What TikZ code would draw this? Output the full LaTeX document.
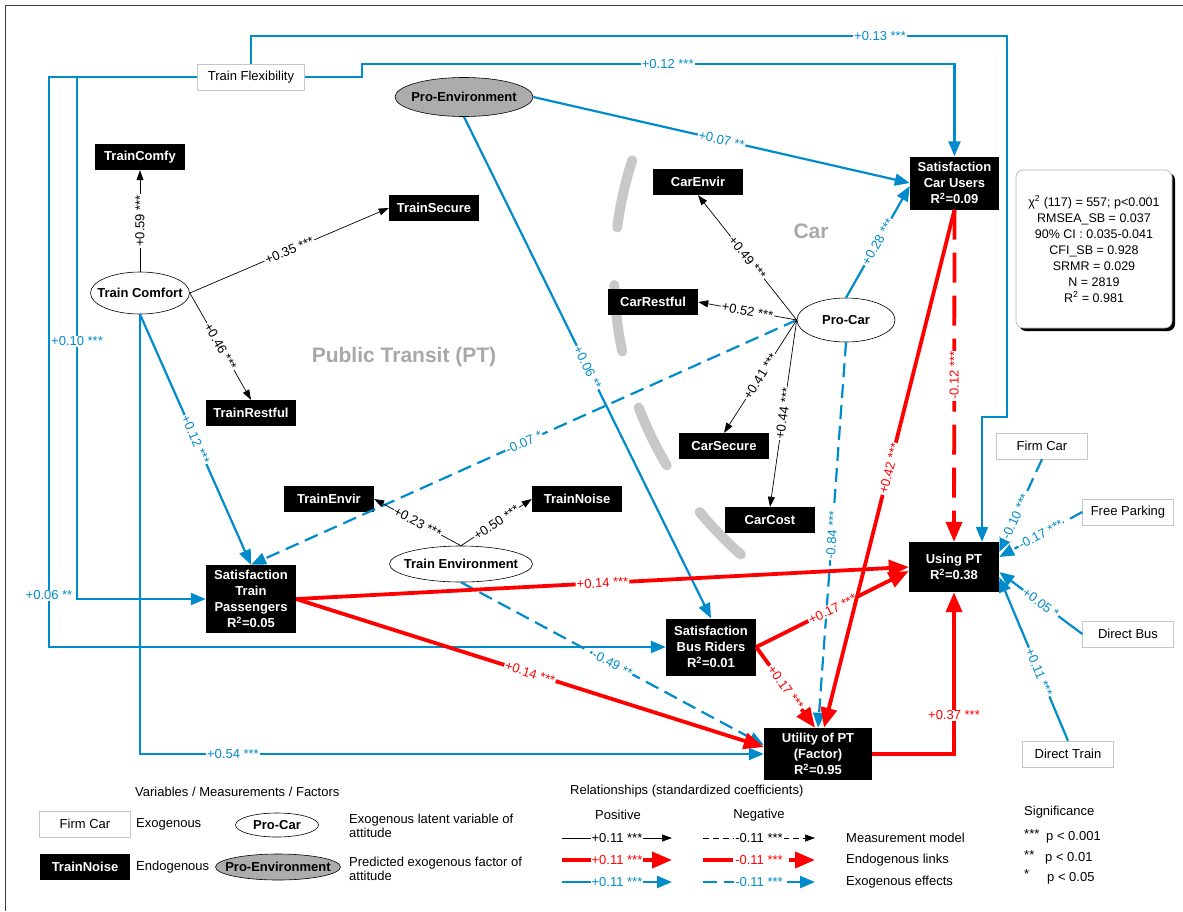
\documentclass[tikz,border=0pt]{standalone}
\usepackage{fontspec}
\setmainfont{Liberation Sans}
\setsansfont{Liberation Sans}
\usetikzlibrary{arrows.meta,shapes.geometric,shadows,positioning}

\definecolor{ptblue}{RGB}{0,140,204}
\definecolor{ptred}{RGB}{255,0,0}
\definecolor{zonegray}{RGB}{200,200,200}
\definecolor{zonetextgray}{RGB}{168,168,168}
\definecolor{factgray}{RGB}{172,172,172}

\newcommand{\rsq}[1]{R\textsuperscript{2}=#1}

\tikzset{
  endo/.style={rectangle,fill=black,text=white,align=center,inner sep=0pt,
    font=\fontsize{13}{16}\selectfont\bfseries,minimum width=90,minimum height=26},
  exo/.style={rectangle,draw=black!22,fill=white,inner sep=0pt,
    font=\fontsize{13}{16}\selectfont,minimum width=91,minimum height=26},
  lat/.style={ellipse,draw=black,line width=0.6pt,fill=white,inner sep=0pt},
  fact/.style={lat,fill=factgray},
  lattext/.style={font=\fontsize{13}{16}\selectfont\bfseries},
  txt/.style={inner sep=0pt,font=\fontsize{13}{15}\selectfont,align=left},
  zonetext/.style={text=zonetextgray,font=\fontsize{21}{24}\selectfont\bfseries},
  lbl/.style={fill=white,inner sep=1pt,font=\fontsize{13}{13}\selectfont},
  slbl/.style={lbl,sloped},
  meas/.style={color=black,line width=0.7pt,-{Triangle[length=10pt,width=7pt]}},
  endl/.style={color=ptred,line width=3.8pt,-{Triangle[length=20pt,width=16pt]}},
  exol/.style={color=ptblue,line width=2.2pt,-{Triangle[length=15pt,width=12pt]}},
  negb/.style={dash pattern=on 14pt off 7pt},
  negr/.style={dash pattern=on 30pt off 13pt},
  negk/.style={dash pattern=on 6pt off 4pt},
}

\begin{document}
\begin{tikzpicture}[x=1pt,y=-1pt]
\useasboundingbox (0,0) rectangle (1183,911);
\draw[black!75,line width=1pt] (5,911) -- (5,5) -- (1183,5);

% zones
\foreach \a/\b in {162.1/172.7,181.6/191.9,200.9/210.8,219.6/228.7}
  \draw[zonegray,line width=10pt,line cap=round]
    plot[domain=\a:\b,samples=20] ({986.6+372.4*cos(\x)},{274.7-372.4*sin(\x)});
\node[zonetext] (pttext) at (404,357) {Public Transit (PT)};
\node[zonetext] (cartext) at (811,231) {Car};

% variables
\node[exo,minimum width=107] (flex) at (251,77) {Train Flexibility};
\node[fact,minimum width=138,minimum height=39,label={[lattext]center:Pro-Environment}] (proenv) at (464,97) {};
\node[endo] (tcomfy) at (140,157) {TrainComfy};
\node[endo] (tsecure) at (434,208) {TrainSecure};
\node[lat,minimum width=99,minimum height=42,label={[lattext]center:Train Comfort}] (tcomfort) at (140,293) {};
\node[endo] (trestful) at (251,413) {TrainRestful};
\node[endo] (tenvir) at (329,499) {TrainEnvir};
\node[endo] (tnoise) at (577,499) {TrainNoise};
\node[lat,minimum width=143,minimum height=36,label={[lattext]center:Train Environment}] (tenv) at (461,564) {};
\node[endo,minimum height=68] (sattrain) at (251,599) {Satisfaction\\Train\\Passengers\\\rsq{0.05}};
\node[endo,minimum height=57] (satbus) at (711,647) {Satisfaction\\Bus Riders\\\rsq{0.01}};
\node[endo,minimum width=108,minimum height=52] (utility) at (818,754) {Utility of PT\\(Factor)\\\rsq{0.95}};
\node[endo,minimum height=50] (usingpt) at (954,567) {Using PT\\\rsq{0.38}};
\node[endo,minimum width=89,minimum height=53] (satcar) at (954.5,183) {Satisfaction\\Car Users\\\rsq{0.09}};
\node[lat,minimum width=98,minimum height=44,label={[lattext]center:Pro-Car}] (procar) at (846,320) {};
\node[endo] (carenvir) at (698,182) {CarEnvir};
\node[endo] (carrestful) at (653,302) {CarRestful};
\node[endo] (carsecure) at (724,446) {CarSecure};
\node[endo] (carcost) at (770,520) {CarCost};
\node[exo] (firmcar) at (1042,446) {Firm Car};
\node[exo] (freepark) at (1128,512) {Free Parking};
\node[exo] (directbus) at (1128,634) {Direct Bus};
\node[exo] (directtrain) at (1068,754) {Direct Train};

\node[draw=black!30,line width=0.6pt,fill=white,rounded corners=7pt,align=center,
  drop shadow={shadow xshift=3pt,shadow yshift=-3pt,fill=black,opacity=1},
  minimum width=156,minimum height=158,inner sep=0pt,font=\fontsize{12.5}{16}\selectfont]
  (stats) at (1094,249) {χ\textsuperscript{2} (117) = 557; p<0.001\\RMSEA\_SB = 0.037\\
  90\% CI : 0.035-0.041\\CFI\_SB = 0.928\\SRMR = 0.029\\N = 2819\\R\textsuperscript{2} = 0.981};

% exogenous effects
\draw[exol] (flex.north) -- (251,36) -- node[lbl,pos=0.832]{+0.13 ***} (1007,36)
  -- (1007,417) -- (982,417) -- ([xshift=28pt]usingpt.north);
\draw[exol] (flex.east) -- (362,77) -- (362,64) -- node[lbl,pos=0.516]{+0.12 ***} (954.5,64) -- (satcar.north);
\draw[exol] (flex.west) -- (77,77) -- node[lbl,pos=0.506]{+0.10 ***} (77,599) -- (sattrain.west);
\draw[exol] (flex.west) -- (49,77) -- node[lbl,pos=0.909]{+0.06 **} (49,647) -- (satbus.west);
\draw[exol] (tcomfort.south) -- (140,754) -- node[lbl,pos=0.149]{+0.54 ***} (utility.west);
\draw[exol] (tcomfort.south) -- node[slbl]{+0.12 ***} (sattrain.north);
\draw[exol] (proenv.east) -- node[slbl]{+0.07 **} (satcar.west);
\draw[exol] (proenv.south) -- node[slbl]{+0.06 **} (satbus.north);
\draw[exol] (procar.north) -- node[slbl]{+0.28 ***} ([yshift=-3pt]satcar.west);
\draw[exol,negb] (procar.west) -- node[slbl]{-0.07 *} (sattrain.north);
\draw[exol,negb] (procar.south) -- node[slbl]{-0.84 ***} (utility.north);
\draw[exol,negb] (tenv.south) -- node[slbl]{-0.49 **} ([yshift=9pt]utility.west);
\draw[exol,negb] (firmcar.south) -- node[slbl,pos=0.62]{-0.10 ***} ([yshift=15pt]usingpt.east);
\draw[exol,negb] (freepark.west) -- node[slbl]{-0.17 ***} ([yshift=10pt]usingpt.east);
\draw[exol] (directbus.west) -- node[slbl]{+0.05 *} ([yshift=-5pt]usingpt.east);
\draw[exol] (directtrain.north) -- node[slbl,pos=0.42]{+0.11 ***} ([yshift=-10pt]usingpt.east);

% measurement model
\draw[meas] (tcomfort.north) -- node[slbl]{+0.59 ***} (tcomfy.south);
\draw[meas] (tcomfort.east) -- node[slbl]{+0.35 ***} (tsecure.west);
\draw[meas] (tcomfort.east) -- node[slbl]{+0.46 ***} (trestful.north);
\draw[meas] (tenv.north) -- node[slbl]{+0.23 ***} (tenvir.east);
\draw[meas] (tenv.north) -- node[slbl]{+0.50 ***} (tnoise.west);
\draw[meas] (procar.west) -- node[slbl]{+0.49 ***} (carenvir.south);
\draw[meas] (procar.west) -- node[slbl]{+0.52 ***} (carrestful.east);
\draw[meas] (procar.west) -- node[slbl]{+0.41 ***} (carsecure.north);
\draw[meas] (procar.west) -- node[slbl]{+0.44 ***} (carcost.north);

% endogenous links
\draw[endl] (sattrain.east) -- node[slbl]{+0.14 ***} (usingpt.west);
\draw[endl] (sattrain.east) -- node[slbl]{+0.14 ***} ([yshift=7pt]utility.west);
\draw[endl] (satbus.east) -- node[slbl]{+0.17 ***} ([yshift=-4pt]usingpt.west);
\draw[endl] (satbus.east) -- node[slbl]{+0.17 ***} ([xshift=-3pt]utility.north);
\draw[endl] (satcar.south) -- node[slbl]{+0.42 ***} ([xshift=6pt]utility.north);
\draw[endl,negr] (satcar.south) -- node[lbl,rotate=90]{-0.12 ***} (usingpt.north);
\draw[endl] (utility.east) -| node[lbl,pos=0.62]{+0.37 ***} (usingpt.south);

% legend
\node[txt,anchor=west] (legvar) at (135,792) {Variables / Measurements / Factors};
\node[exo] (legexo) at (85,824) {Firm Car};
\node[txt,anchor=west] (legexotxt) at (136,824) {Exogenous};
\node[lat,minimum width=83,minimum height=24,label={[lattext]center:Pro-Car}] (leglat) at (277,825) {};
\node[txt,anchor=west,font=\fontsize{13}{14}\selectfont] (leglattxt) at (349,826) {Exogenous latent variable of\\attitude};
\node[endo] (legendo) at (85,867) {TrainNoise};
\node[txt,anchor=west] (legendotxt) at (136,867) {Endogenous};
\node[fact,minimum width=125,minimum height=26,label={[lattext]center:Pro-Environment}] (legfact) at (278,867) {};
\node[txt,anchor=west,font=\fontsize{13}{14}\selectfont] (legfacttxt) at (349,869) {Predicted exogenous factor of\\attitude};

\node[txt,anchor=west] (legrel) at (570,791) {Relationships (standardized coefficients)};
\node[txt] (legpos) at (618,815) {Positive};
\node[txt] (legneg) at (759,815) {Negative};
\coordinate (pk0) at (562,838); \coordinate (pk1) at (672,838);
\coordinate (pr0) at (562,860); \coordinate (pr1) at (672,860);
\coordinate (pb0) at (562,882); \coordinate (pb1) at (672,882);
\coordinate (nk0) at (703,838); \coordinate (nk1) at (815,838);
\coordinate (nr0) at (703,860); \coordinate (nr1) at (815,860);
\coordinate (nb0) at (703,882); \coordinate (nb1) at (815,882);
\draw[meas] (pk0) -- node[lbl]{+0.11 ***} (pk1);
\draw[endl] (pr0) -- node[lbl]{+0.11 ***} (pr1);
\draw[exol] (pb0) -- node[lbl]{+0.11 ***} (pb1);
\draw[meas,negk] (nk0) -- node[lbl]{-0.11 ***} (nk1);
\draw[endl,negr] (nr0) -- node[lbl]{-0.11 ***} (nr1);
\draw[exol,negb] (nb0) -- node[lbl]{-0.11 ***} (nb1);
\node[txt,anchor=west] (legmeas) at (846,838) {Measurement model};
\node[txt,anchor=west] (legendl) at (846,860) {Endogenous links};
\node[txt,anchor=west] (legexol) at (846,882) {Exogenous effects};

\node[txt,anchor=west] (legsig) at (1024,812) {Significance};
\node[txt,anchor=west] (sig3) at (1024,834) {***};
\node[txt,anchor=west] (p3) at (1046,837) {p < 0.001};
\node[txt,anchor=west] (sig2) at (1024,855) {**};
\node[txt,anchor=west] (p2) at (1045,858) {p < 0.01};
\node[txt,anchor=west] (sig1) at (1024,874) {*};
\node[txt,anchor=west] (p1) at (1047,878) {p < 0.05};
\end{tikzpicture}
\end{document}
